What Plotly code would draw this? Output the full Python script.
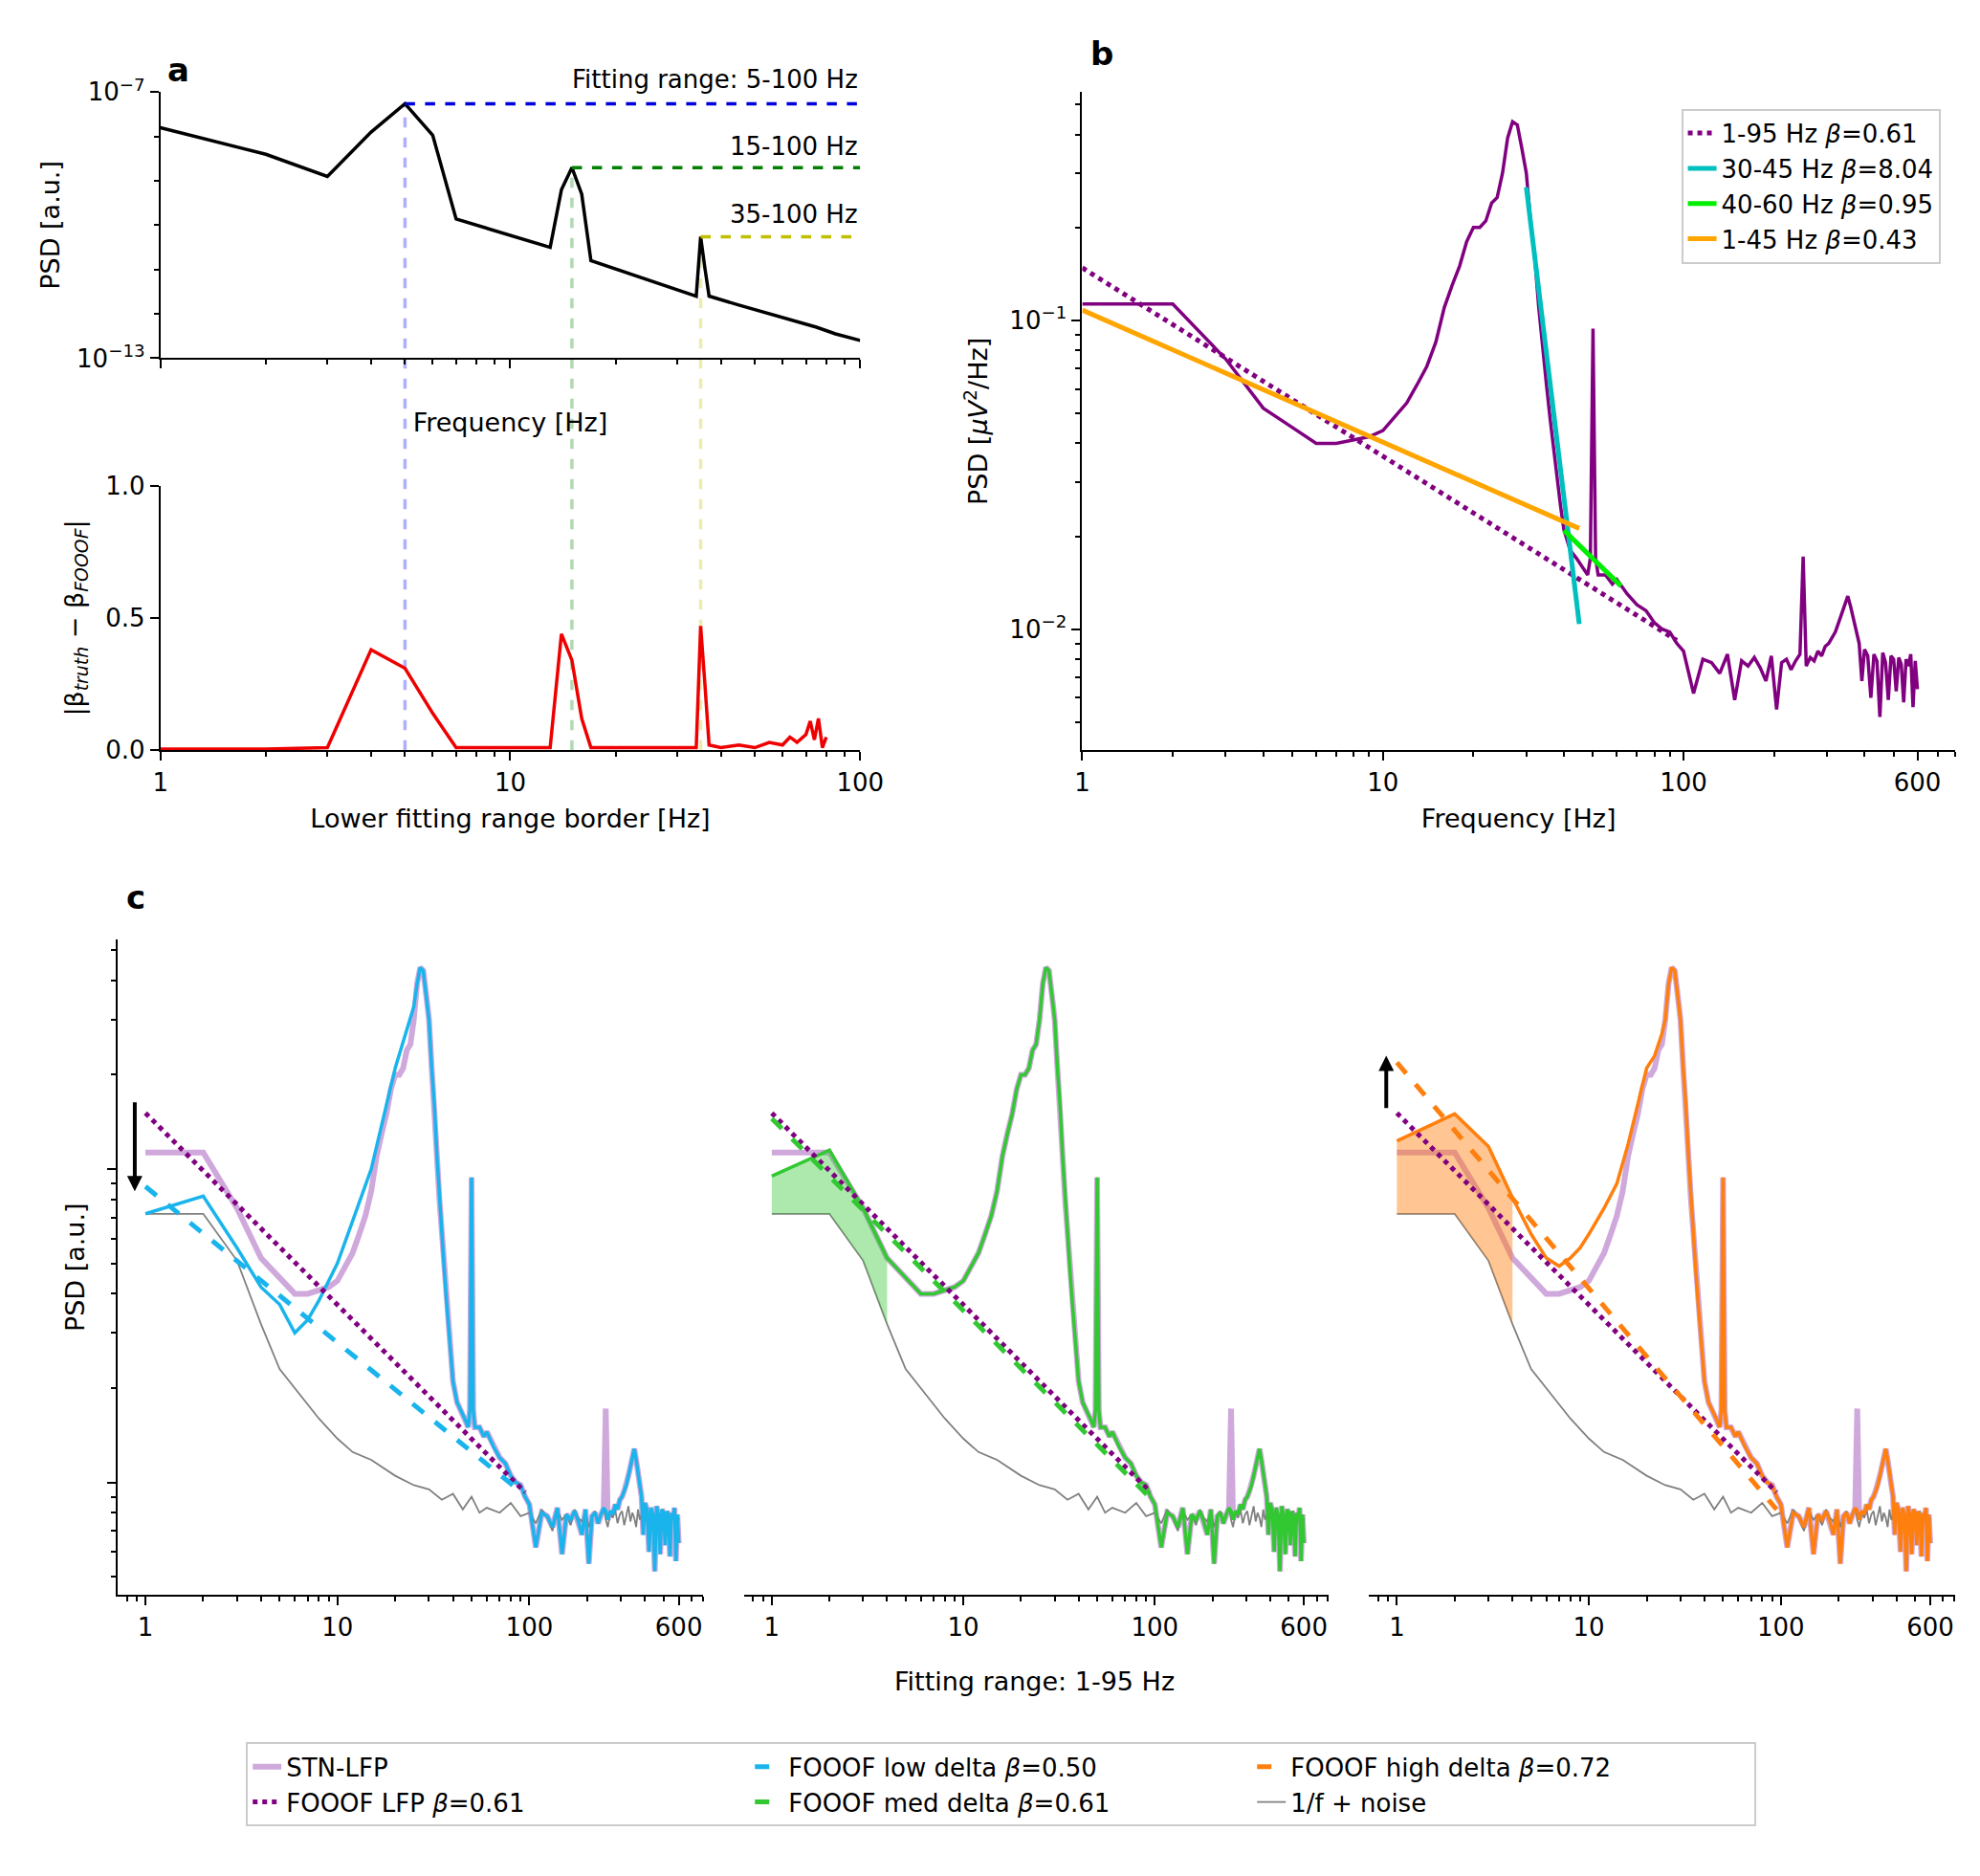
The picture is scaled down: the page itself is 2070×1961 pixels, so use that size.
import numpy as np
import plotly.graph_objects as go

# ---- panel a data ----
a_freq = [1, 2, 3, 4, 5, 6, 7, 13, 14, 15, 16, 17, 34, 35, 36, 37, 45, 55, 65, 75, 85, 100]
a_psd = [10**-7.8, 10**-8.4, 10**-8.9, 10**-7.9, 10**-7.26, 10**-7.97, 10**-9.86, 10**-10.5,
         10**-9.2, 10**-8.7, 10**-9.3, 10**-10.8, 10**-11.6, 10**-10.26, 10**-10.97, 10**-11.6,
         10**-11.8, 10**-12.0, 10**-12.15, 10**-12.3, 10**-12.45, 10**-12.6]
a_ranges = [5, 15, 35]
a_levels = [10**-7.26, 10**-8.7, 10**-10.26]
a_range_labels = ["Fitting range: 5-100 Hz", "15-100 Hz", "35-100 Hz"]

err_freq = [1, 2, 3, 4, 5, 6, 7, 13, 14, 15, 16, 17, 34, 35, 36, 37, 40, 45, 50, 55, 60, 63, 66,
            70, 72, 74, 76, 78, 80]
err_val = [0.005, 0.005, 0.01, 0.38, 0.31, 0.14, 0.01, 0.01, 0.44, 0.34, 0.12, 0.01, 0.01, 0.47,
           0.25, 0.02, 0.01, 0.02, 0.01, 0.03, 0.02, 0.05, 0.03, 0.06, 0.11, 0.04, 0.12, 0.01, 0.05]

# ---- STN-LFP spectrum ----
lfp_freq = [1, 2, 3, 4, 5, 6, 7, 8, 9, 10, 11, 12, 13, 14, 15, 16, 17, 18, 19, 20, 21, 22, 23, 24,
            25, 26, 27, 28, 29, 30, 31, 32, 33, 34, 35, 36, 37, 38, 39, 40, 42, 44, 46, 48, 49, 50,
            51, 52, 55, 58, 60, 65, 70, 75, 80, 85, 90, 95]
lfp_psd = [0.113, 0.113, 0.075, 0.052, 0.045, 0.040, 0.040, 0.041, 0.042, 0.044, 0.049, 0.054,
           0.062, 0.071, 0.085, 0.11, 0.13, 0.15, 0.18, 0.20, 0.20, 0.21, 0.24, 0.25, 0.30, 0.39,
           0.44, 0.43, 0.36, 0.30, 0.21, 0.16, 0.11, 0.08, 0.062, 0.048, 0.038, 0.031, 0.025,
           0.021, 0.018, 0.017, 0.016, 0.015, 0.017, 0.094, 0.017, 0.015, 0.015, 0.014, 0.0145,
           0.013, 0.012, 0.0115, 0.0105, 0.0100, 0.0098, 0.0090]
hf_freq = [100, 108, 116, 124, 132, 140, 148, 156, 164, 172, 180, 188, 196, 204, 212, 220, 228,
           236, 244, 250, 256, 264, 272, 280, 288, 296, 304, 312, 320, 328, 336, 344, 352, 360,
           368, 376, 384, 392, 400, 410, 420, 430, 440, 450, 460, 470, 480, 490, 500, 510, 520,
           530, 540, 550, 560, 570, 580, 590, 600]
hf_psd = [0.0085, 0.0062, 0.0080, 0.0078, 0.0072, 0.0083, 0.0059, 0.0079, 0.0076, 0.0081, 0.0075,
          0.0068, 0.0082, 0.0055, 0.0078, 0.0080, 0.0074, 0.0079, 0.0083, 0.0172, 0.0076, 0.0081,
          0.0079, 0.0085, 0.0082, 0.0088, 0.0090, 0.0094, 0.0098, 0.0105, 0.0112, 0.0120, 0.0128,
          0.0118, 0.0108, 0.0098, 0.0090, 0.0068, 0.0086, 0.0082, 0.0060, 0.0083, 0.0079, 0.0052,
          0.0084, 0.0078, 0.0059, 0.0082, 0.0080, 0.0063, 0.0081, 0.0077, 0.0058, 0.0080, 0.0076,
          0.0083, 0.0056, 0.0079, 0.0064]

# 1/f + noise
gray_freq = [1, 2, 3, 4, 5, 6, 8, 10, 12, 15, 18, 20, 25, 30, 35, 40, 45, 50, 55, 60, 70, 80, 90]
gray_psd = [0.072, 0.072, 0.051, 0.032, 0.023, 0.020, 0.016, 0.0138, 0.0125, 0.0118, 0.011,
            0.0105, 0.0098, 0.0095, 0.0088, 0.0092, 0.0082, 0.0090, 0.0080, 0.0083, 0.0080,
            0.0086, 0.0078]
gray_hf = [0.0080, 0.0074, 0.0082, 0.0077, 0.0070, 0.0081, 0.0076, 0.0079, 0.0073, 0.0082, 0.0077,
           0.0075, 0.0080, 0.0072, 0.0078, 0.0081, 0.0074, 0.0079, 0.0083, 0.0076, 0.0072, 0.0080,
           0.0077, 0.0082, 0.0074, 0.0079, 0.0081, 0.0073, 0.0078, 0.0084, 0.0075, 0.0080, 0.0077,
           0.0072, 0.0082, 0.0076, 0.0079, 0.0071, 0.0081, 0.0075, 0.0078, 0.0083, 0.0074, 0.0079,
           0.0072, 0.0080, 0.0077, 0.0082, 0.0073, 0.0079, 0.0076, 0.0081, 0.0071, 0.0078, 0.0080,
           0.0074, 0.0079, 0.0072, 0.0077]

# modified low-frequency parts of the simulated spectra
low_freq = [1, 2, 3, 4, 5, 6, 7, 8, 10, 12, 15, 20, 25]
low_psd = [0.072, 0.082, 0.056, 0.042, 0.037, 0.030, 0.033, 0.038, 0.050, 0.068, 0.10, 0.21, 0.33]
med_freq = [1, 2, 3, 4]
med_psd = [0.095, 0.115, 0.075, 0.052]
high_freq = [1, 2, 3, 4, 5, 6, 7, 8, 9, 10, 12, 14, 16, 18, 20, 22, 24]
high_psd = [0.123, 0.15, 0.118, 0.081, 0.062, 0.052, 0.049, 0.052, 0.056, 0.062, 0.075, 0.09,
            0.12, 0.16, 0.21, 0.23, 0.27]

# fitted aperiodic lines (end points)
b_fits = [("1-95 Hz", 0.61, [1, 95], [0.148, 0.0092], "#800080", "dot"),
          ("30-45 Hz", 8.04, [30, 45], [0.27, 0.0104], "#00bfbf", "solid"),
          ("40-60 Hz", 0.95, [40, 62], [0.0209, 0.0138], "#00ee00", "solid"),
          ("1-45 Hz", 0.43, [1, 45], [0.108, 0.0212], "#ffa500", "solid")]
c_lfp_fit = [[1, 95], [0.151, 0.0093]]
c_low_fit = [[1, 95], [0.088, 0.0091]]
c_med_fit = [[1, 95], [0.145, 0.0089]]
c_high_fit = [[1, 95], [0.219, 0.0082]]

FONT = "DejaVu Sans"
fig = go.Figure()

full_f = lfp_freq + hf_freq
full_p = lfp_psd + hf_psd
gray_f = gray_freq + hf_freq
gray_p = gray_psd + gray_hf
# simulated spectra follow the LFP but without the 250 Hz spike
sim_p = [p if f != 250 else 0.0081 for f, p in zip(full_f, full_p)]


def combine(lf, lp):
    f = list(lf) + [x for x in full_f if x > max(lf)]
    p = list(lp) + [y for x, y in zip(full_f, sim_p) if x > max(lf)]
    return f, p


# ---- panel a ----
fig.add_trace(go.Scatter(x=a_freq, y=a_psd, mode="lines", line=dict(color="black", width=3.5),
                         xaxis="x", yaxis="y", showlegend=False))
dash_cols = ["#0000dd", "#007f00", "#bfbf00"]
light_cols = ["rgba(110,110,255,0.55)", "rgba(100,180,100,0.5)", "rgba(220,220,110,0.55)"]
for f, lv, c in zip(a_ranges, a_levels, dash_cols):
    fig.add_trace(go.Scatter(x=[f, 100], y=[lv, lv], mode="lines",
                             line=dict(color=c, width=3.5, dash="dash"),
                             xaxis="x", yaxis="y", showlegend=False))
fig.add_trace(go.Scatter(x=err_freq, y=err_val, mode="lines", line=dict(color="#ee0000", width=3.5),
                         xaxis="x2", yaxis="y2", showlegend=False))

# ---- panel b ----
fig.add_trace(go.Scatter(x=full_f, y=full_p, mode="lines", line=dict(color="#800080", width=3.5),
                         xaxis="x3", yaxis="y3", showlegend=False))
for name, beta, fx, fy, col, dash in b_fits:
    fig.add_trace(go.Scatter(x=fx, y=fy, mode="lines", line=dict(color=col, width=5, dash=dash),
                             name=f"{name} <i>β</i>={beta:.2f}", xaxis="x3", yaxis="y3",
                             legend="legend2"))

# ---- panel c ----
sims = [(low_freq, low_psd, "#1ab4ec", c_low_fit, "FOOOF low delta", 0.50, None),
        (med_freq, med_psd, "#32c832", c_med_fit, "FOOOF med delta", 0.61, "rgba(50,200,50,0.4)"),
        (high_freq, high_psd, "#ff7f0e", c_high_fit, "FOOOF high delta", 0.72, "rgba(255,127,14,0.45)")]
for i, (lf, lp, col, fit, name, beta, fillc) in enumerate(sims):
    xa, ya = f"x{4 + i}", f"y{4 + i}"
    first = i == 0
    fig.add_trace(go.Scatter(x=full_f, y=full_p, mode="lines", line=dict(color="#cfa8dc", width=6),
                             name="STN-LFP", showlegend=first, xaxis=xa, yaxis=ya,
                             legendrank=1))
    fig.add_trace(go.Scatter(x=gray_f, y=gray_p, mode="lines", line=dict(color="#808080", width=1.8),
                             name="1/f + noise", showlegend=first, xaxis=xa, yaxis=ya,
                             legendrank=6))
    if fillc:
        gx = [f for f in gray_freq if f <= 4]
        gy = [p for f, p in zip(gray_freq, gray_psd) if f <= 4]
        sx = [f for f in lf if f <= 4]
        sy = [p for f, p in zip(lf, lp) if f <= 4]
        fig.add_trace(go.Scatter(x=sx + gx[::-1], y=sy + gy[::-1], fill="toself", fillcolor=fillc,
                                 mode="none", showlegend=False, xaxis=xa, yaxis=ya))
    sf, sp = combine(lf, lp)
    fig.add_trace(go.Scatter(x=sf, y=sp, mode="lines", line=dict(color=col, width=3.5),
                             showlegend=False, xaxis=xa, yaxis=ya))
    fig.add_trace(go.Scatter(x=c_lfp_fit[0], y=c_lfp_fit[1], mode="lines",
                             line=dict(color="#800080", width=5, dash="dot"),
                             name="FOOOF LFP <i>β</i>=0.61", showlegend=first, xaxis=xa, yaxis=ya,
                             legendrank=4))
    fig.add_trace(go.Scatter(x=fit[0], y=fit[1], mode="lines",
                             line=dict(color=col, width=5, dash="dash"),
                             name=f"{name} <i>β</i>={beta:.2f}", xaxis=xa, yaxis=ya,
                             legendrank={0: 2, 1: 5, 2: 3}[i]))

# ---- axes ----
ax_common = dict(showline=True, linecolor="black", linewidth=2, ticks="outside", tickwidth=2,
                 ticklen=9, tickcolor="black", showgrid=False, zeroline=False,
                 tickfont=dict(size=26, color="black"), title_font=dict(size=27, color="black"))
freq_minor = [m * d for d in (0.1, 1, 10, 100) for m in range(2, 10)]
psd_minor = [m * d for d in (0.001, 0.01, 0.1) for m in range(2, 10)]


def minor(vals):
    return dict(ticks="outside", ticklen=5, tickwidth=1.5, tickcolor="black", showgrid=False,
                tickmode="array", tickvals=vals)


xa_dom = [0.0745, 0.4336]
fig.update_layout(
    xaxis=dict(ax_common, type="log", range=[0, 2], domain=xa_dom, anchor="y",
               tickvals=[1, 10, 100], showticklabels=False, minor=minor(freq_minor),
               title=dict(text="Frequency [Hz]", standoff=48)),
    yaxis=dict(ax_common, type="log", range=[-13, -7], domain=[0.8197, 0.964], anchor="x",
               tickvals=[1e-13, 1e-7], ticktext=["10<sup>−13</sup>", "10<sup>−7</sup>"],
               minor=minor([1e-12, 1e-11, 1e-10, 1e-9, 1e-8]),
               title=dict(text="PSD [a.u.]", standoff=10)),
    xaxis2=dict(ax_common, type="log", range=[0, 2], domain=xa_dom, anchor="y2",
                tickvals=[1, 10, 100], ticktext=["1", "10", "100"], minor=minor(freq_minor),
                title=dict(text="Lower fitting range border [Hz]")),
    yaxis2=dict(ax_common, range=[0, 1], domain=[0.607, 0.7506], anchor="x2",
                tickvals=[0, 0.5, 1], ticktext=["0.0", "0.5", "1.0"],
                title=dict(text="|β<sub><i>truth</i></sub> − β<sub><i>FOOOF</i></sub>|")),
    xaxis3=dict(ax_common, type="log", range=[0, 2.903], domain=[0.5476, 0.9955], anchor="y3",
                tickvals=[1, 10, 100, 600], ticktext=["1", "10", "100", "600"],
                minor=minor(freq_minor), title=dict(text="Frequency [Hz]")),
    yaxis3=dict(ax_common, type="log", range=[-2.392, -0.261], domain=[0.607, 0.964],
                anchor="x3", tickvals=[0.1, 0.01], ticktext=["10<sup>−1</sup>", "10<sup>−2</sup>"],
                minor=minor(psd_minor), title=dict(text="PSD [<i>μV</i><sup>2</sup>/Hz]")),
)
c_doms = [[0.0525, 0.3532], [0.374, 0.674], [0.6948, 0.9955]]
for i, dom in enumerate(c_doms):
    n = 4 + i
    fig.layout[f"xaxis{n}"] = dict(ax_common, type="log", range=[-0.145, 2.907], domain=dom,
                                   anchor=f"y{n}", tickvals=[1, 10, 100, 600],
                                   ticktext=["1", "10", "100", "600"], minor=minor(freq_minor))
    fig.layout[f"yaxis{n}"] = dict(ax_common, type="log", range=[-2.36, -0.267],
                                   domain=[0.1487, 0.5044], anchor=f"x{n}", showticklabels=False,
                                   tickvals=[0.01, 0.1],
                                   minor=minor(psd_minor) if i == 0 else dict(ticks=""),
                                   showline=(i == 0), ticks="outside" if i == 0 else "",
                                   title=dict(text="PSD [a.u.]" if i == 0 else ""))

# vertical markers across panel a
for f, lv, c in zip(a_ranges, [0.958, 0.9237, 0.8854], light_cols):
    fig.add_shape(type="line", xref="x2", yref="paper", x0=f, x1=f,
                  y0=0.607, y1=lv, line=dict(color=c, width=3.5, dash="dash"), layer="below")

ann = []
for txt, yy in zip(a_range_labels, [0.962, 0.926, 0.889]):
    ann.append(dict(text=txt, xref="paper", yref="paper", x=0.4336, y=yy, xanchor="right",
                    yanchor="bottom", showarrow=False, font=dict(size=26)))
for txt, x, y in [("a", 0.077, 0.976), ("b", 0.551, 0.985), ("c", 0.056, 0.527)]:
    ann.append(dict(text=f"<b>{txt}</b>", xref="paper", yref="paper", x=x, y=y, xanchor="left",
                    yanchor="middle", showarrow=False, font=dict(size=34)))
ann.append(dict(text="Fitting range: 1-95 Hz", xref="paper", yref="paper", x=0.523, y=0.093,
                showarrow=False, font=dict(size=27)))
# arrows
ann.append(dict(x=np.log10(0.88), y=np.log10(0.085), ax=np.log10(0.88), ay=np.log10(0.165),
                xref="x4", yref="y4", axref="x4", ayref="y4", showarrow=True, arrowhead=2,
                arrowwidth=4, arrowsize=0.8, arrowcolor="black", text=""))
ann.append(dict(x=np.log10(0.88), y=np.log10(0.23), ax=np.log10(0.88), ay=np.log10(0.155),
                xref="x6", yref="y6", axref="x6", ayref="y6", showarrow=True, arrowhead=2,
                arrowwidth=4, arrowsize=0.8, arrowcolor="black", text=""))

fig.update_layout(
    width=2070, height=1961, plot_bgcolor="white", paper_bgcolor="white",
    margin=dict(l=0, r=0, t=0, b=0), annotations=ann,
    font=dict(family=FONT, size=26, color="black"),
    legend=dict(orientation="h", x=0.506, xanchor="center", y=0.046, yanchor="middle",
                entrywidth=480, bordercolor="#cccccc", borderwidth=2, font=dict(size=26),
                traceorder="normal"),
    legend2=dict(x=0.988, xanchor="right", y=0.955, yanchor="top", bordercolor="#cccccc",
                 borderwidth=2, font=dict(size=26), bgcolor="rgba(255,255,255,0.8)"),
)
fig.write_html("out.html")
